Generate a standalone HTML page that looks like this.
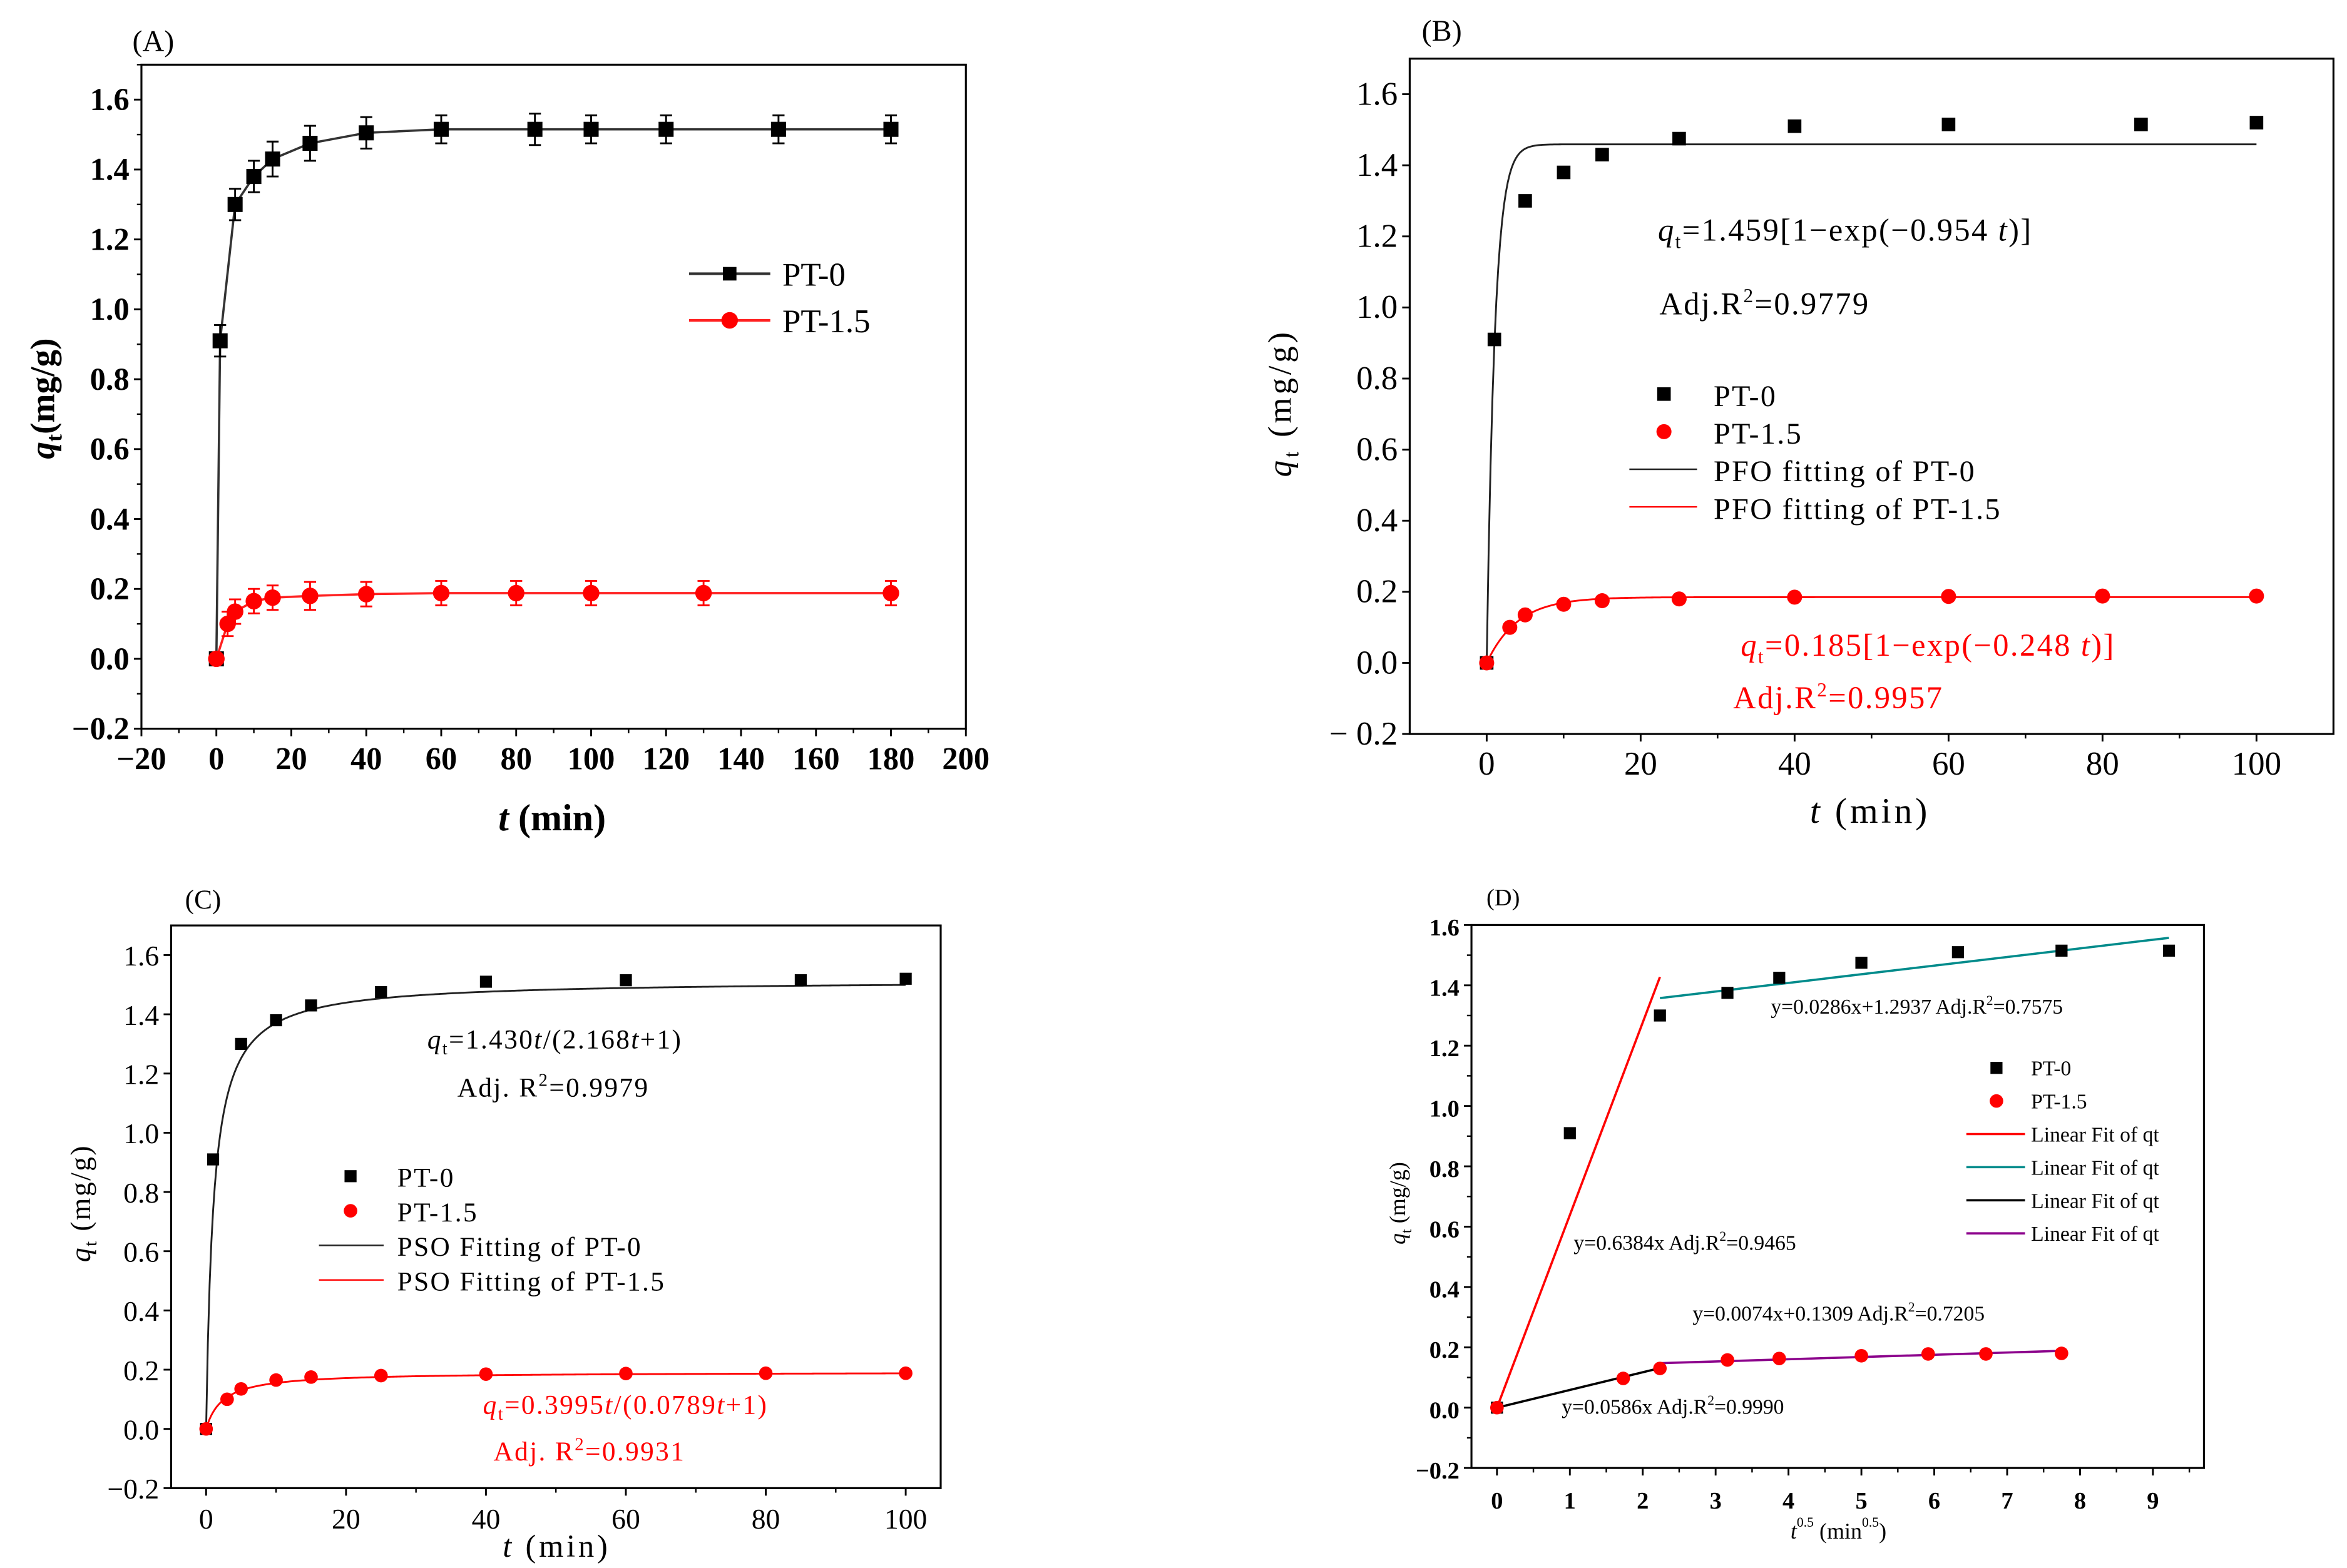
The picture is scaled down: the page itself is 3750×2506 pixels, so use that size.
<!DOCTYPE html>
<html><head><meta charset="utf-8"><style>
html,body{margin:0;padding:0;background:#fff}
svg{display:block}
text{font-family:"Liberation Serif","Noto Serif CJK SC",serif;fill:#000}
</style></head><body>
<svg id="fig" width="3750" height="2506" viewBox="0 0 1560 1042.5" preserveAspectRatio="none" xmlns="http://www.w3.org/2000/svg"></svg>
<script>
// ---- data ----
const aT0=[0,1,5,10,15,25,40,60,85,100,120,150,180];
const aQ0=[0,0.91,1.30,1.38,1.43,1.475,1.505,1.515,1.515,1.515,1.515,1.515,1.515];
const aT15=[0,3,5,10,15,25,40,60,80,100,130,180];
const aQ15=[0,0.10,0.135,0.165,0.175,0.18,0.185,0.188,0.188,0.188,0.188,0.188];
const aErr0=[0,0.045,0.045,0.045,0.05,0.05,0.045,0.04,0.045,0.04,0.04,0.04,0.04];
const aErr15=[0,0.035,0.035,0.035,0.035,0.04,0.035,0.035,0.035,0.035,0.035,0.035];
const bT0=[0,1,5,10,15,25,40,60,85,100];
const bQ0=[0,0.91,1.30,1.38,1.43,1.475,1.51,1.515,1.515,1.52];
const bT15=[0,3,5,10,15,25,40,60,80,100];
const bQ15=[0,0.10,0.135,0.165,0.175,0.18,0.185,0.187,0.188,0.188];
const pfo0=[1.459,0.954], pfo15=[0.185,0.248];
const psoQe=[1.515,0.192];
const psoRate=[0.95,0.42];
const dX0=[0,1,2.236,3.162,3.873,5,6.325,7.746,9.22];
const dQ0=[0,0.91,1.30,1.375,1.425,1.475,1.51,1.515,1.515];
const dX15=[0,1.732,2.236,3.162,3.873,5,5.916,6.708,7.746];
const dQ15=[0,0.097,0.13,0.158,0.163,0.172,0.178,0.178,0.18];
const dFits=[[0,2.236,0.6384,0,'#ff0000'],[2.236,9.22,0.0286,1.2937,'#008b8b'],[0,2.236,0.0586,0,'#000'],[2.236,7.746,0.0074,0.1309,'#8b008b']];

const NS='http://www.w3.org/2000/svg';
const svg=document.getElementById('fig');
function mk(tag,attrs,parent,txt){const e=document.createElementNS(NS,tag);for(const k in attrs)e.setAttribute(k,attrs[k]);if(txt!==undefined)e.textContent=txt;(parent||svg).appendChild(e);return e;}
function scale(d0,d1,p0,p1){return v=>p0+(v-d0)*(p1-p0)/(d1-d0);}
let clipN=0;
function clip(g,x,y,w,h){const id='c'+(clipN++);const cp=mk('clipPath',{id:id},g);mk('rect',{x:x,y:y,width:w,height:h},cp);return mk('g',{'clip-path':'url(#'+id+')'},g);}

function axes(g,sx,sy,x0,x1,y0,y1,xt,yt,xminor,yminor,fs,bold,fmtx,fmty){
  const fr=mk('rect',{x:sx(x0),y:sy(y1),width:sx(x1)-sx(x0),height:sy(y0)-sy(y1),fill:'none',stroke:'#000','stroke-width':1.3},g);
  
  
  xt.forEach(v=>{mk('line',{x1:sx(v),x2:sx(v),y1:sy(y0),y2:sy(y0)+5,stroke:'#000','stroke-width':1.2},g);
    const t=mk('text',{x:sx(v),y:sy(y0)+27,'text-anchor':'middle','font-size':fs,'font-weight':bold?'bold':'normal'},g,fmtx(v));
    
    });
  xminor.forEach(v=>mk('line',{x1:sx(v),x2:sx(v),y1:sy(y0),y2:sy(y0)+3,stroke:'#000'},g));
  yt.forEach(v=>{mk('line',{x1:sx(x0)-5,x2:sx(x0),y1:sy(v),y2:sy(v),stroke:'#000','stroke-width':1.2},g);
    const t=mk('text',{x:sx(x0)-8,y:sy(v)+7,'text-anchor':'end','font-size':fs,'font-weight':bold?'bold':'normal'},g,fmty(v));
    
    });
  yminor.forEach(v=>mk('line',{x1:sx(x0)-3,x2:sx(x0),y1:sy(v),y2:sy(v),stroke:'#000'},g));
}
function pline(g,xs,ys,sx,sy,col,w){return mk('polyline',{points:xs.map((x,i)=>sx(x)+','+sy(ys[i])).join(' '),fill:'none',stroke:col,'stroke-width':w||1.3},g);}
function sq(g,x,y,s,col){const r=mk('rect',{x:x-s/2,y:y-s/2,width:s,height:s,fill:col||'#000'},g);return r;}
function dot(g,x,y,r){const c=mk('circle',{cx:x,cy:y,r:r,fill:'#ff0000'},g);return c;}
function rng(a,b,s){const o=[];for(let v=a;v<=b+1e-9;v+=s)o.push(+v.toFixed(4));return o;}
const f1=v=>v<0?'\u2212'+Math.abs(v).toFixed(1):v.toFixed(1);
const f0=v=>v<0?'\u2212'+Math.abs(v):String(v);

// ---------- Panel A ----------
{const g=mk('g',{});
const sx=scale(-20,200,94,642), sy=scale(-0.2,1.7,484.5,43);
axes(g,sx,sy,-20,200,-0.2,1.7,rng(-20,200,20),rng(-0.2,1.6,0.2),rng(-10,190,20),rng(-0.1,1.7,0.2),21,true,f0,f1);
mk('text',{x:88,y:34,'font-size':20},g,'(A)');
const xl=mk('text',{x:367,y:552,'text-anchor':'middle','font-size':25,'font-weight':'bold'},g);xl.innerHTML='<tspan font-style="italic">t</tspan> (min)';

const yl=mk('text',{transform:'translate(36,265) rotate(-90)','text-anchor':'middle','font-size':23,'font-weight':'bold'},g);yl.innerHTML='<tspan font-style="italic">q</tspan><tspan font-size="15" dy="5">t</tspan><tspan dy="-5">(mg/g)</tspan>';

pline(g,aT0,aQ0,sx,sy,'#333',1.5);pline(g,aT15,aQ15,sx,sy,'#ff2020',1.5);
aT0.forEach((t,i)=>{if(aErr0[i]){mk('path',{d:`M${sx(t)-4},${sy(aQ0[i]+aErr0[i])}h8M${sx(t)},${sy(aQ0[i]+aErr0[i])}V${sy(aQ0[i]-aErr0[i])}M${sx(t)-4},${sy(aQ0[i]-aErr0[i])}h8`,stroke:'#000','stroke-width':1.2,fill:'none'},g);}sq(g,sx(t),sy(aQ0[i]),10);});
aT15.forEach((t,i)=>{if(aErr15[i]){mk('path',{d:`M${sx(t)-4},${sy(aQ15[i]+aErr15[i])}h8M${sx(t)},${sy(aQ15[i]+aErr15[i])}V${sy(aQ15[i]-aErr15[i])}M${sx(t)-4},${sy(aQ15[i]-aErr15[i])}h8`,stroke:'#ff0000','stroke-width':1.2,fill:'none'},g);}dot(g,sx(t),sy(aQ15[i]),5.5);});
const lg=mk('g',{},g);
mk('line',{x1:458,x2:512,y1:182,y2:182,stroke:'#333','stroke-width':1.8},lg);sq(lg,485,182,9);
mk('text',{x:520,y:190,'font-size':22},lg,'PT-0');
mk('line',{x1:458,x2:512,y1:213,y2:213,stroke:'#ff2020','stroke-width':1.8},lg);dot(lg,485,213,5.5);
mk('text',{x:520,y:221,'font-size':22},lg,'PT-1.5');}

// ---------- Panel B ----------
{const g=mk('g',{});
const sx=scale(-10,110,937,1551), sy=scale(-0.2,1.7,488,39);
axes(g,sx,sy,-10,110,-0.2,1.7,rng(0,100,20),rng(-0.2,1.6,0.2),rng(10,90,20),[],22,false,f0,v=>f1(v).replace('\u2212','\u2212 '));
mk('text',{x:945,y:27,'font-size':20},g,'(B)');
const xl=mk('text',{x:1243,y:547,'text-anchor':'middle','font-size':24,'letter-spacing':2},g);xl.innerHTML='<tspan font-style="italic">t</tspan> (min)';

const yl=mk('text',{transform:'translate(858,268) rotate(-90)','text-anchor':'middle','font-size':22,'letter-spacing':2},g);yl.innerHTML='<tspan font-style="italic">q</tspan><tspan font-size="14" dy="5">t</tspan><tspan dy="-5"> (mg/g)</tspan>';

const cg=clip(g,sx(-10),sy(1.7),sx(110)-sx(-10),sy(-0.2)-sy(1.7));
const tt=rng(0,100,0.25);
pline(cg,tt,tt.map(t=>pfo0[0]*(1-Math.exp(-pfo0[1]*t))),sx,sy,'#222',1.2);
pline(cg,tt,tt.map(t=>pfo15[0]*(1-Math.exp(-pfo15[1]*t))),sx,sy,'#ff0000',1.2);
bT0.forEach((t,i)=>sq(g,sx(t),sy(bQ0[i]),9));
bT15.forEach((t,i)=>dot(g,sx(t),sy(bQ15[i]),5));
mk('text',{x:1102,y:160,'font-size':21,'letter-spacing':1},g).innerHTML='<tspan font-style="italic">q</tspan><tspan font-size="13" dy="5">t</tspan><tspan dy="-5">=1.459[1−exp(−0.954</tspan><tspan font-style="italic"> t</tspan>)]';
mk('text',{x:1103,y:209,'font-size':21,'letter-spacing':1},g).innerHTML='Adj.R<tspan font-size="13" dy="-8">2</tspan><tspan dy="8">=0.9779</tspan>';
const lg=mk('g',{},g);
sq(lg,1106,262,9);mk('text',{x:1139,y:270,'font-size':20,'letter-spacing':1},lg,'PT-0');
dot(lg,1106,287,5);mk('text',{x:1139,y:295,'font-size':20,'letter-spacing':1},lg,'PT-1.5');
mk('line',{x1:1083,x2:1128,y1:312,y2:312,stroke:'#222'},lg);mk('text',{x:1139,y:320,'font-size':20,'letter-spacing':1},lg,'PFO fitting of PT-0');
mk('line',{x1:1083,x2:1128,y1:337,y2:337,stroke:'#ff0000'},lg);mk('text',{x:1139,y:345,'font-size':20,'letter-spacing':1},lg,'PFO fitting of PT-1.5');
mk('text',{x:1157,y:436,'font-size':21,'letter-spacing':1},g).innerHTML='<tspan font-style="italic" style="fill:#ff0000">q</tspan><tspan font-size="13" dy="5" style="fill:#ff0000">t</tspan><tspan dy="-5" style="fill:#ff0000">=0.185[1−exp(−0.248</tspan><tspan font-style="italic" style="fill:#ff0000"> t</tspan><tspan style="fill:#ff0000">)]</tspan>';
mk('text',{x:1152,y:471,'font-size':21,'letter-spacing':1},g).innerHTML='<tspan style="fill:#ff0000">Adj.R</tspan><tspan font-size="13" dy="-8" style="fill:#ff0000">2</tspan><tspan dy="8" style="fill:#ff0000">=0.9957</tspan>';}

// ---------- Panel C ----------
{const g=mk('g',{});
const sx=scale(-5,105,113.75,625.25), sy=scale(-0.2,1.7,989.4,615.3);
axes(g,sx,sy,-5,105,-0.2,1.7,rng(0,100,20),rng(-0.2,1.6,0.2),rng(10,90,20),[],19,false,f0,f1);
mk('text',{x:123,y:604,'font-size':18},g,'(C)');
const xl=mk('text',{x:370,y:1035,'text-anchor':'middle','font-size':21,'letter-spacing':2},g);xl.innerHTML='<tspan font-style="italic">t</tspan> (min)';

const yl=mk('text',{transform:'translate(60,800) rotate(-90)','text-anchor':'middle','font-size':19,'letter-spacing':1},g);yl.innerHTML='<tspan font-style="italic">q</tspan><tspan font-size="12" dy="4">t</tspan><tspan dy="-4"> (mg/g)</tspan>';

const cg=clip(g,sx(-5),sy(1.7),sx(105)-sx(-5),sy(-0.2)-sy(1.7));
const tt=rng(0,100,0.25);
pline(cg,tt,tt.map(t=>psoQe[0]*psoRate[0]*t/(1+psoRate[0]*t)),sx,sy,'#222',1.2);
pline(cg,tt,tt.map(t=>psoQe[1]*psoRate[1]*t/(1+psoRate[1]*t)),sx,sy,'#ff0000',1.2);
bT0.forEach((t,i)=>sq(g,sx(t),sy(bQ0[i]),8));
bT15.forEach((t,i)=>dot(g,sx(t),sy(bQ15[i]),4.5));
mk('text',{x:284,y:697,'font-size':18,'letter-spacing':1},g).innerHTML='<tspan font-style="italic">q</tspan><tspan font-size="12" dy="4">t</tspan><tspan dy="-4">=1.430</tspan><tspan font-style="italic">t</tspan>/(2.168<tspan font-style="italic">t</tspan>+1)';
mk('text',{x:304,y:729,'font-size':18,'letter-spacing':1},g).innerHTML='Adj. R<tspan font-size="12" dy="-7">2</tspan><tspan dy="7">=0.9979</tspan>';
const lg=mk('g',{},g);
sq(lg,233,782,8);mk('text',{x:264,y:789,'font-size':18,'letter-spacing':1},lg,'PT-0');
dot(lg,233,805,4.5);mk('text',{x:264,y:812,'font-size':18,'letter-spacing':1},lg,'PT-1.5');
mk('line',{x1:212,x2:255,y1:828,y2:828,stroke:'#222'},lg);mk('text',{x:264,y:835,'font-size':18,'letter-spacing':1},lg,'PSO Fitting of PT-0');
mk('line',{x1:212,x2:255,y1:851,y2:851,stroke:'#ff0000'},lg);mk('text',{x:264,y:858,'font-size':18,'letter-spacing':1},lg,'PSO Fitting of PT-1.5');
mk('text',{x:321,y:940,'font-size':18,'letter-spacing':1},g).innerHTML='<tspan font-style="italic" style="fill:#ff0000">q</tspan><tspan font-size="12" dy="4" style="fill:#ff0000">t</tspan><tspan dy="-4" style="fill:#ff0000">=0.3995</tspan><tspan font-style="italic" style="fill:#ff0000">t</tspan><tspan style="fill:#ff0000">/(0.0789</tspan><tspan font-style="italic" style="fill:#ff0000">t</tspan><tspan style="fill:#ff0000">+1)</tspan>';
mk('text',{x:328,y:971,'font-size':18,'letter-spacing':1},g).innerHTML='<tspan style="fill:#ff0000">Adj. R</tspan><tspan font-size="12" dy="-7" style="fill:#ff0000">2</tspan><tspan dy="7" style="fill:#ff0000">=0.9931</tspan>';}

// ---------- Panel D ----------
{const g=mk('g',{});
const sx=scale(0,9,995,1431), sy=scale(-0.2,1.6,976,615);
axes(g,sx,sy,-0.35,9.7,-0.2,1.6,rng(0,9,1),rng(-0.2,1.6,0.2),rng(0.5,9.5,1),rng(-0.1,1.5,0.2),16,true,f0,f1);
mk('text',{x:988,y:602,'font-size':16},g,'(D)');
const xl=mk('text',{x:1222,y:1023,'text-anchor':'middle','font-size':15},g);xl.innerHTML='<tspan font-style="italic">t</tspan><tspan font-size="9" dy="-8">0.5</tspan><tspan dy="8"> (min</tspan><tspan font-size="9" dy="-8">0.5</tspan><tspan dy="8">)</tspan>';

const yl=mk('text',{transform:'translate(934,800) rotate(-90)','text-anchor':'middle','font-size':15},g);yl.innerHTML='<tspan font-style="italic">q</tspan><tspan font-size="10" dy="4">t</tspan><tspan dy="-4"> (mg/g)</tspan>';

dFits.forEach(f=>{const l=mk('line',{x1:sx(f[0]),x2:sx(f[1]),y1:sy(f[2]*f[0]+f[3]),y2:sy(f[2]*f[1]+f[3]),stroke:f[4],'stroke-width':1.5},g);});
dX0.forEach((x,i)=>sq(g,sx(x),sy(dQ0[i]),8));
dX15.forEach((x,i)=>dot(g,sx(x),sy(dQ15[i]),4.5));
const ann=(x,y,a,b)=>mk('text',{x:x,y:y,'font-size':14},g).innerHTML=a+'<tspan font-size="9" dy="-6">2</tspan><tspan dy="6">'+b+'</tspan>';
ann(1177,674,'y=0.0286x+1.2937 Adj.R','=0.7575');
ann(1046,831,'y=0.6384x Adj.R','=0.9465');
ann(1125,878,'y=0.0074x+0.1309 Adj.R','=0.7205');
ann(1038,940,'y=0.0586x Adj.R','=0.9990');
const lg=mk('g',{},g);
sq(lg,1327,710,8);mk('text',{x:1350,y:715,'font-size':14},lg,'PT-0');
dot(lg,1327,732,4.5);mk('text',{x:1350,y:737,'font-size':14},lg,'PT-1.5');
['#ff0000','#008b8b','#000','#8b008b'].forEach((c,i)=>{const y=754+i*22;mk('line',{x1:1307,x2:1346,y1:y,y2:y,stroke:c,'stroke-width':1.5},lg);mk('text',{x:1350,y:y+5,'font-size':14},lg,'Linear Fit of qt');});}
</script>
</body></html>
